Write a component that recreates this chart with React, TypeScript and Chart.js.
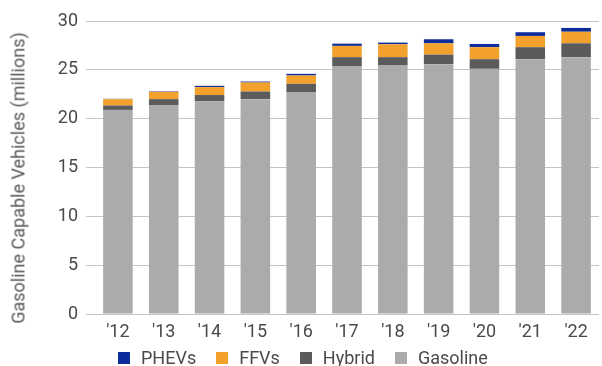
import React, { useEffect, useRef } from "react";
import { Chart, registerables } from "chart.js";

Chart.register(...registerables);

const years = ["'12", "'13", "'14", "'15", "'16", "'17", "'18", "'19", "'20", "'21", "'22"];
const gasoline = [20.9, 21.4, 21.77, 22.0, 22.72, 25.34, 25.44, 25.58, 25.1, 26.09, 26.3];
const hybrid = [0.45, 0.6, 0.65, 0.78, 0.85, 0.96, 0.86, 0.98, 0.99, 1.23, 1.42];
const ffvs = [0.65, 0.75, 0.81, 0.92, 0.85, 1.15, 1.32, 1.16, 1.23, 1.15, 1.18];
const phevs = [0.03, 0.05, 0.13, 0.1, 0.17, 0.23, 0.17, 0.41, 0.33, 0.38, 0.39];
const yTitle = "Gasoline Capable Vehicles (millions)";

const COLORS = {
  PHEVs: "#0d2c9c",
  FFVs: "#f2a12c",
  Hybrid: "#5b5b5b",
  Gasoline: "#ababab",
};

const legendItems = ["PHEVs", "FFVs", "Hybrid", "Gasoline"] as const;

export default function App() {
  const ref = useRef<HTMLCanvasElement | null>(null);

  useEffect(() => {
    if (!ref.current) return;
    const chart = new Chart(ref.current, {
      type: "bar",
      data: {
        labels: years,
        datasets: [
          { label: "Gasoline", data: gasoline, backgroundColor: COLORS.Gasoline },
          { label: "Hybrid", data: hybrid, backgroundColor: COLORS.Hybrid },
          { label: "FFVs", data: ffvs, backgroundColor: COLORS.FFVs },
          { label: "PHEVs", data: phevs, backgroundColor: COLORS.PHEVs },
        ],
      },
      options: {
        animation: false,
        responsive: false,
        maintainAspectRatio: false,
        layout: { padding: { top: 21, right: 3, left: 0, bottom: 0 } },
        datasets: { bar: { barPercentage: 1, categoryPercentage: 0.645 } },
        plugins: {
          legend: { display: false },
          tooltip: { enabled: false },
          title: { display: false },
        },
        scales: {
          x: {
            stacked: true,
            grid: { display: false, drawTicks: false },
            border: { display: false },
            ticks: {
              color: "#4a4a4a",
              font: { family: "Roboto", size: 18 },
              padding: 8,
              maxRotation: 0,
            },
            afterFit: (s: any) => {
              s.height = 52;
            },
          },
          y: {
            stacked: true,
            min: 0,
            max: 30,
            grid: { color: "#c4c4c4", lineWidth: 1, drawTicks: true, tickLength: 9 },
            border: { display: false },
            ticks: {
              stepSize: 5,
              color: "#4a4a4a",
              font: { family: "Roboto", size: 18 },
              padding: 8,
            },
            afterFit: (s: any) => {
              s.width = 95;
            },
          },
        },
      },
    });
    return () => chart.destroy();
  }, []);

  return (
    <div
      style={{
        position: "fixed",
        left: 0,
        top: 0,
        width: 602,
        height: 366,
        background: "#fff",
        fontFamily: "Roboto",
      }}
    >
      <canvas ref={ref} width={602} height={366} style={{ display: "block" }} />
      <div
        style={{
          position: "absolute",
          left: 18,
          top: 178,
          transform: "translate(-50%, -50%) rotate(-90deg)",
          whiteSpace: "nowrap",
          fontSize: 18,
          color: "#595959",
        }}
      >
        {yTitle}
      </div>
      <div
        style={{
          position: "absolute",
          left: 118,
          top: 348,
          display: "flex",
          alignItems: "center",
          gap: 20,
          fontSize: 18,
          lineHeight: "20px",
          color: "#4a4a4a",
        }}
      >
        {legendItems.map((k) => (
          <div key={k} style={{ display: "flex", alignItems: "center" }}>
            <span
              style={{
                display: "inline-block",
                width: 12,
                height: 12,
                background: COLORS[k],
                marginRight: 11,
              }}
            />
            <span>{k}</span>
          </div>
        ))}
      </div>
    </div>
  );
}
